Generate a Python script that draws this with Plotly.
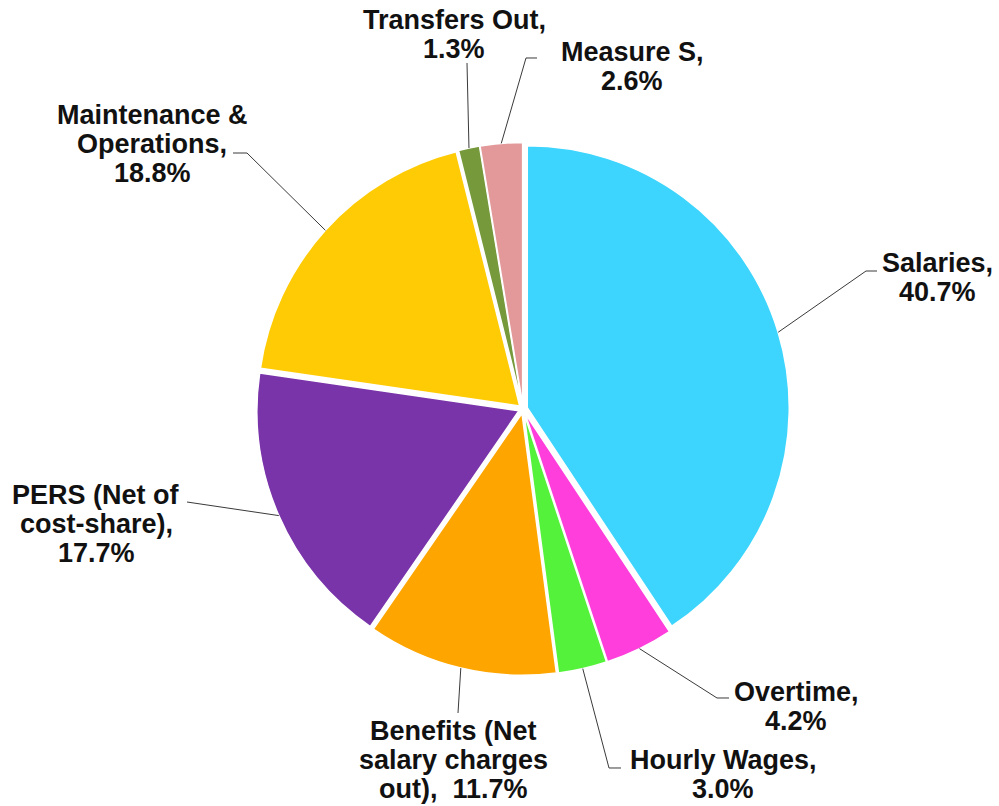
import math
import plotly.graph_objects as go

# Canvas size (pixels)
W, H = 999, 806

# ---- data -------------------------------------------------------------
categories = [
    "Salaries",
    "Overtime",
    "Hourly Wages",
    "Benefits (Net salary charges out)",
    "PERS (Net of cost-share)",
    "Maintenance & Operations",
    "Transfers Out",
    "Measure S",
]
shares = [40.7, 4.2, 3.0, 11.7, 17.7, 18.8, 1.3, 2.6]

# label wording with line breaks; {p} is replaced by the share
label_templates = [
    "Salaries,\n{p}",
    "Overtime,\n{p}",
    "Hourly Wages,\n{p}",
    "Benefits (Net\nsalary charges\nout),  {p}",
    "PERS (Net of\ncost-share),\n{p}",
    "Maintenance &\nOperations,\n{p}",
    "Transfers Out,\n{p}",
    "Measure S,\n{p}",
]

slice_colors = [
    "#3DD5FD",  # Salaries
    "#FF3EDB",  # Overtime
    "#55F23C",  # Hourly Wages
    "#FFA500",  # Benefits
    "#7A34AA",  # PERS
    "#FFCB05",  # Maintenance & Operations
    "#76993B",  # Transfers Out
    "#E3999A",  # Measure S
]

# ---- layout geometry (pixels) ----------------------------------------
CX, CY = 523, 409          # pie centre
R0 = 262                   # pie radius
PULL = 0.017               # small explosion of every slice

# centre of each label block (x) and of its first text line (y)
label_anchor = [
    (937, 263), (796, 692), (723, 760), (453, 731),
    (96, 495), (152, 115), (454, 20), (632, 52),
]
LINE_STEP = 29

# leader-line points after the point where the line leaves the slice
leader_tail = [
    [(866, 271), (877, 271)],
    [(717, 698), (729, 698)],
    [(609, 768), (621, 768)],
    [(458, 713)],
    [(187, 502)],
    [(247, 153), (233, 153)],
    [(467, 63)],
    [(526, 58), (537, 58)],
]

FONT = "Liberation Sans, Arial, sans-serif"
FONT_SIZE = 27


def px(x):
    return x / W


def py(y):
    return 1 - y / H


side = 2 * R0 * (1 + PULL)
domain = dict(
    x=[px(CX - side / 2), px(CX + side / 2)],
    y=[py(CY + side / 2), py(CY - side / 2)],
)

fig = go.Figure(
    go.Pie(
        values=shares,
        labels=categories,
        sort=False,
        direction="clockwise",
        rotation=0,
        pull=[PULL] * len(shares),
        textinfo="none",
        hoverinfo="label+percent",
        marker=dict(colors=slice_colors, line=dict(color="white", width=1.5)),
        domain=domain,
        showlegend=False,
    )
)

# ---- labels and leader lines -----------------------------------------
total = sum(shares)
shapes = []
annotations = []
cum = 0.0
for i, v in enumerate(shares):
    mid = (cum + v / 2) / total * 2 * math.pi
    cum += v
    r_edge = R0 * (1 + PULL)
    sx = CX + r_edge * math.sin(mid)
    sy = CY - r_edge * math.cos(mid)
    pts = [(sx, sy)] + leader_tail[i]
    path = "M " + " L ".join(f"{px(x):.5f},{py(y):.5f}" for x, y in pts)
    shapes.append(dict(type="path", path=path, xref="paper", yref="paper",
                       line=dict(color="#3a3a3a", width=1)))

    text = label_templates[i].format(p=f"{v:.1f}%")
    ax, ay = label_anchor[i]
    for k, line in enumerate(text.split("\n")):
        annotations.append(dict(
            x=px(ax), y=py(ay + k * LINE_STEP), xref="paper", yref="paper",
            text=line, showarrow=False, xanchor="center", yanchor="middle",
            font=dict(family=FONT, size=FONT_SIZE, color="#111111", weight="bold"),
        ))

fig.update_layout(
    width=W, height=H,
    margin=dict(l=0, r=0, t=0, b=0),
    paper_bgcolor="white",
    plot_bgcolor="white",
    shapes=shapes,
    annotations=annotations,
)

fig.write_html("out.html")
